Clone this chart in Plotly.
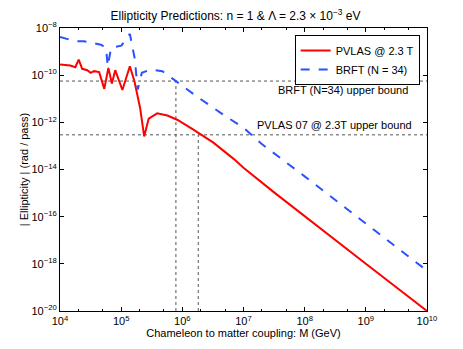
import plotly.graph_objects as go

# log10 values
pvlas_logm = [4.0, 4.167, 4.25, 4.306, 4.363, 4.446, 4.50, 4.557, 4.64, 4.724, 4.791,
              4.848, 4.903, 5.02, 5.142, 5.216, 5.309, 5.376, 5.45, 5.589, 5.756,
              5.923, 6.174, 6.508, 6.843, 7.0, 7.5, 8.0, 9.0, 10.0]
pvlas_loge = [-9.55, -9.59, -9.66, -9.34, -9.73, -9.79, -9.90, -9.83, -9.87, -10.58, -9.69,
              -10.35, -9.79, -10.63, -9.62, -10.25, -11.38, -12.60, -11.84, -11.62, -11.71,
              -11.90, -12.30, -12.86, -13.56, -13.93, -14.97, -15.99, -18.0, -20.0]

brft_logm = [4.0, 4.25, 4.39, 4.669, 4.753, 4.78, 4.836, 5.003, 5.142, 5.22, 5.271,
             5.338, 5.477, 5.672, 5.895, 6.229, 6.62, 7.01, 7.289, 8.0, 9.0, 10.0]
brft_loge = [-8.38, -8.56, -8.56, -8.71, -8.84, -9.62, -8.84, -8.75, -8.25, -9.27, -10.61,
             -9.90, -9.76, -9.83, -10.25, -10.89, -11.59, -12.25, -12.90, -14.29, -16.29, -18.29]

brft_bound = -10.25
pvlas_bound = -12.53
brft_cross = 5.895
pvlas_cross = 6.26

xticks = [4, 5, 6, 7, 8, 9, 10]
yticks = [-8, -10, -12, -14, -16, -18, -20]


def p10(v):
    return [10 ** a for a in v]


def lab(n):
    return "10<sup>" + str(n).replace("-", "−") + "</sup>"


fig = go.Figure()
dot = dict(color="#555555", width=1, dash="dot")
for b in (brft_bound, pvlas_bound):
    fig.add_trace(go.Scatter(x=[1e4, 1e10], y=[10 ** b] * 2, mode="lines", line=dot,
                             showlegend=False, hoverinfo="skip"))
for xc, b in ((brft_cross, brft_bound), (pvlas_cross, pvlas_bound)):
    fig.add_trace(go.Scatter(x=[10 ** xc] * 2, y=[1e-20, 10 ** b], mode="lines", line=dot,
                             showlegend=False, hoverinfo="skip"))

fig.add_trace(go.Scatter(x=p10(pvlas_logm), y=p10(pvlas_loge), mode="lines",
                         name="PVLAS @ 2.3 T", line=dict(color="#ff0000", width=2)))
fig.add_trace(go.Scatter(x=p10(brft_logm), y=p10(brft_loge), mode="lines",
                         name="BRFT (N = 34)",
                         line=dict(color="#2b50ff", width=2, dash="dash")))

fig.add_annotation(x=0.953, xref="paper", y=-10.62, yref="y", xanchor="right",
                   text="BRFT (N=34) upper bound", showarrow=False)
fig.add_annotation(x=0.964, xref="paper", y=-12.10, yref="y", xanchor="right",
                   text="PVLAS 07 @ 2.3T upper bound", showarrow=False)

ax = dict(showline=True, linecolor="black", linewidth=1, mirror="allticks",
          ticks="inside", ticklen=4, tickcolor="black", showgrid=False, zeroline=False,
          tickfont=dict(size=11))
fig.update_xaxes(type="log", range=[4, 10], tickvals=[10 ** t for t in xticks],
                 ticktext=[lab(t) for t in xticks],
                 minor=dict(ticks="inside", ticklen=2, tickcolor="black"),
                 title=dict(text="Chameleon to matter coupling: M (GeV)", standoff=2,
                            font=dict(size=11)), **ax)
fig.update_yaxes(type="log", range=[-20, -8], tickvals=[10 ** t for t in yticks],
                 ticktext=[lab(t) for t in yticks],
                 title=dict(text="| Ellipticity | (rad / pass)", standoff=0,
                            font=dict(size=11)), **ax)

# page body has an 8px margin, so the figure is 8px smaller and margins shifted
fig.update_layout(
    width=455, height=341,
    margin=dict(l=52, r=36, t=17, b=32),
    paper_bgcolor="white", plot_bgcolor="white",
    font=dict(family="Liberation Sans, Arial, sans-serif", size=11, color="black"),
    title=dict(text="Ellipticity Predictions: n = 1 & Λ = 2.3 × 10<sup>−3</sup> eV",
               x=0.5, xanchor="center", y=0.978, yanchor="middle", font=dict(size=12)),
    legend=dict(x=0.98, y=0.975, xanchor="right", yanchor="top", bgcolor="white",
                bordercolor="black", borderwidth=1, font=dict(size=11),
                tracegroupgap=0, itemwidth=30),
)

fig.write_html("out.html")
